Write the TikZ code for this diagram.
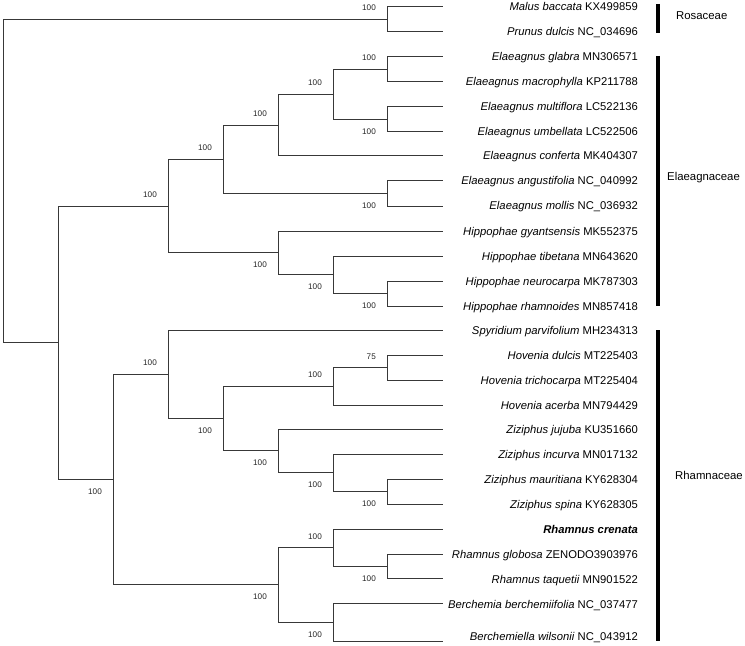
\documentclass[tikz,border=0pt]{standalone}
\usepackage{fontspec}
\setmainfont{Liberation Sans}
\begin{document}
\begin{tikzpicture}[x=1bp,y=-1bp,
  br/.style={draw=black!78,line width=1bp},
  tip/.style={anchor=base east,inner sep=0pt,font=\fontsize{11.3}{13}\selectfont},
  bs/.style={anchor=base east,inner sep=0pt,font=\fontsize{8.2}{9}\selectfont,text=black!85},
  fam/.style={anchor=west,inner sep=0pt,font=\fontsize{11.4}{14}\selectfont},
  bar/.style={draw=black,line width=4bp}]
\useasboundingbox (0,0) rectangle (745,646);
% leaf ends
\coordinate (t1) at (443,7);
\coordinate (t2) at (443,32);
\coordinate (t3) at (443,57);
\coordinate (t4) at (443,82);
\coordinate (t5) at (443,107);
\coordinate (t6) at (443,132);
\coordinate (t7) at (443,156);
\coordinate (t8) at (443,181);
\coordinate (t9) at (443,206);
\coordinate (t10) at (443,231);
\coordinate (t11) at (443,256);
\coordinate (t12) at (443,281);
\coordinate (t13) at (443,306);
\coordinate (t14) at (443,330);
\coordinate (t15) at (443,355);
\coordinate (t16) at (443,380);
\coordinate (t17) at (443,405);
\coordinate (t18) at (443,429);
\coordinate (t19) at (443,454);
\coordinate (t20) at (443,479);
\coordinate (t21) at (443,504);
\coordinate (t22) at (443,529);
\coordinate (t23) at (443,554);
\coordinate (t24) at (443,578);
\coordinate (t25) at (443,603);
\coordinate (t26) at (443,641);
% internal nodes
\coordinate (root) at (3,181);
\coordinate (ros) at (387,19.5);
\coordinate (a) at (58,342.8);
\coordinate (e) at (168,206.1);
\coordinate (e1) at (223,159.4);
\coordinate (e2) at (278,125.25);
\coordinate (e3) at (333,94.5);
\coordinate (e4a) at (387,69.5);
\coordinate (e4b) at (387,119.5);
\coordinate (e5) at (387,193.5);
\coordinate (h) at (278,252.9);
\coordinate (h2) at (333,274.75);
\coordinate (h3) at (387,293.5);
\coordinate (r) at (113,479.5);
\coordinate (r1) at (168,374.3);
\coordinate (r1b) at (223,418.6);
\coordinate (hv) at (333,386.25);
\coordinate (hv2) at (387,367.5);
\coordinate (z) at (278,450.9);
\coordinate (z2) at (333,472.75);
\coordinate (z3) at (387,491.5);
\coordinate (r2) at (278,584.75);
\coordinate (rh) at (333,547.5);
\coordinate (rh2) at (387,566);
\coordinate (b) at (333,622);
% branches
\draw[br] (root) |- (ros);
\draw[br] (root) |- (a);
\draw[br] (ros) |- (t1);
\draw[br] (ros) |- (t2);
\draw[br] (a) |- (e);
\draw[br] (a) |- (r);
\draw[br] (e) |- (e1);
\draw[br] (e) |- (h);
\draw[br] (e1) |- (e2);
\draw[br] (e1) |- (e5);
\draw[br] (e2) |- (e3);
\draw[br] (e2) |- (t7);
\draw[br] (e3) |- (e4a);
\draw[br] (e3) |- (e4b);
\draw[br] (e4a) |- (t3);
\draw[br] (e4a) |- (t4);
\draw[br] (e4b) |- (t5);
\draw[br] (e4b) |- (t6);
\draw[br] (e5) |- (t8);
\draw[br] (e5) |- (t9);
\draw[br] (h) |- (t10);
\draw[br] (h) |- (h2);
\draw[br] (h2) |- (t11);
\draw[br] (h2) |- (h3);
\draw[br] (h3) |- (t12);
\draw[br] (h3) |- (t13);
\draw[br] (r) |- (r1);
\draw[br] (r) |- (r2);
\draw[br] (r1) |- (t14);
\draw[br] (r1) |- (r1b);
\draw[br] (r1b) |- (hv);
\draw[br] (r1b) |- (z);
\draw[br] (hv) |- (hv2);
\draw[br] (hv) |- (t17);
\draw[br] (hv2) |- (t15);
\draw[br] (hv2) |- (t16);
\draw[br] (z) |- (t18);
\draw[br] (z) |- (z2);
\draw[br] (z2) |- (t19);
\draw[br] (z2) |- (z3);
\draw[br] (z3) |- (t20);
\draw[br] (z3) |- (t21);
\draw[br] (r2) |- (rh);
\draw[br] (r2) |- (b);
\draw[br] (rh) |- (t22);
\draw[br] (rh) |- (rh2);
\draw[br] (rh2) |- (t23);
\draw[br] (rh2) |- (t24);
\draw[br] (b) |- (t25);
\draw[br] (b) |- (t26);
% bootstrap values
\node[bs] (bros) at (376,11) {100};
\node[bs] (be4a) at (376,61) {100};
\node[bs] (be4b) at (376,134.5) {100};
\node[bs] (be3) at (322,86) {100};
\node[bs] (be2) at (267,116.75) {100};
\node[bs] (be5) at (376,208.5) {100};
\node[bs] (be1) at (212,150.9) {100};
\node[bs] (bh3) at (376,308.5) {100};
\node[bs] (bh2) at (322,289.75) {100};
\node[bs] (bh) at (267,267.9) {100};
\node[bs] (be) at (157,197.6) {100};
\node[bs] (bhv2) at (376,359) {75};
\node[bs] (bhv) at (322,377.75) {100};
\node[bs] (bz3) at (376,506.5) {100};
\node[bs] (bz2) at (322,487.75) {100};
\node[bs] (bz) at (267,465.9) {100};
\node[bs] (br1b) at (212,433.6) {100};
\node[bs] (br1) at (157,365.8) {100};
\node[bs] (brh2) at (376,581) {100};
\node[bs] (brh) at (322,539) {100};
\node[bs] (bb) at (322,637) {100};
\node[bs] (br2) at (267,599.75) {100};
\node[bs] (br) at (102,494.5) {100};
% tip labels
\node[tip] (n1) at (638,11) {\textit{Malus baccata} KX499859};
\node[tip] (n2) at (638,36) {\textit{Prunus dulcis} NC\_034696};
\node[tip] (n3) at (638,61) {\textit{Elaeagnus glabra} MN306571};
\node[tip] (n4) at (638,86) {\textit{Elaeagnus macrophylla} KP211788};
\node[tip] (n5) at (638,111) {\textit{Elaeagnus multiflora} LC522136};
\node[tip] (n6) at (638,136) {\textit{Elaeagnus umbellata} LC522506};
\node[tip] (n7) at (638,160) {\textit{Elaeagnus conferta} MK404307};
\node[tip] (n8) at (638,185) {\textit{Elaeagnus angustifolia} NC\_040992};
\node[tip] (n9) at (638,210) {\textit{Elaeagnus mollis} NC\_036932};
\node[tip] (n10) at (638,235) {\textit{Hippophae gyantsensis} MK552375};
\node[tip] (n11) at (638,260) {\textit{Hippophae tibetana} MN643620};
\node[tip] (n12) at (638,285) {\textit{Hippophae neurocarpa} MK787303};
\node[tip] (n13) at (638,310) {\textit{Hippophae rhamnoides} MN857418};
\node[tip] (n14) at (638,334) {\textit{Spyridium parvifolium} MH234313};
\node[tip] (n15) at (638,359) {\textit{Hovenia dulcis} MT225403};
\node[tip] (n16) at (638,384) {\textit{Hovenia trichocarpa} MT225404};
\node[tip] (n17) at (638,409) {\textit{Hovenia acerba} MN794429};
\node[tip] (n18) at (638,433) {\textit{Ziziphus jujuba} KU351660};
\node[tip] (n19) at (638,458) {\textit{Ziziphus incurva} MN017132};
\node[tip] (n20) at (638,483) {\textit{Ziziphus mauritiana} KY628304};
\node[tip] (n21) at (638,508) {\textit{Ziziphus spina} KY628305};
\node[tip] (n22) at (638,533) {\textbf{\textit{Rhamnus crenata}}};
\node[tip] (n23) at (638,558) {\textit{Rhamnus globosa} ZENODO3903976};
\node[tip] (n24) at (638,583) {\textit{Rhamnus taquetii} MN901522};
\node[tip] (n25) at (638,608) {\textit{Berchemia berchemiifolia} NC\_037477};
\node[tip] (n26) at (638,640) {\textit{Berchemiella wilsonii} NC\_043912};
% family bars
\coordinate (ros1) at (658,4);
\coordinate (ros2) at (658,33);
\coordinate (ela1) at (658,56);
\coordinate (ela2) at (658,306);
\coordinate (rha1) at (658,330);
\coordinate (rha2) at (658,641);
\draw[bar] (ros1) -- (ros2);
\draw[bar] (ela1) -- (ela2);
\draw[bar] (rha1) -- (rha2);
\node[fam] (fros) at (676,15.5) {Rosaceae};
\node[fam] (fela) at (667,178) {Elaeagnaceae};
\node[fam] (frha) at (675,475) {Rhamnaceae};
\end{tikzpicture}
\end{document}
